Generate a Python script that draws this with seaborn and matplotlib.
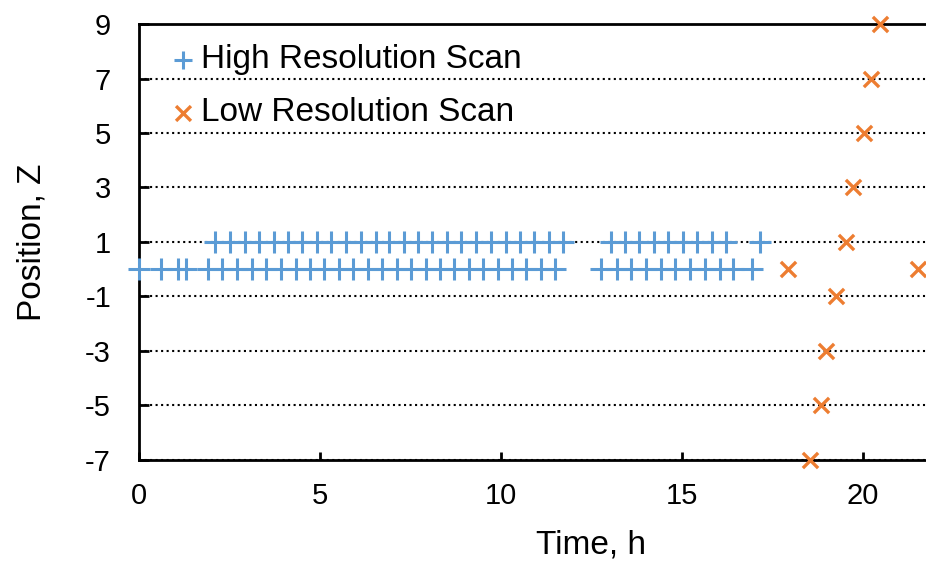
import matplotlib
matplotlib.use("Agg")
import matplotlib.pyplot as plt
import seaborn as sns
import pandas as pd

# High resolution scan (time in h, position Z)
high_t_z0 = [0.0, 0.61, 1.07, 1.30, 1.91, 2.31, 2.70, 3.13, 3.52, 3.92, 4.33, 4.72,
             5.12, 5.52, 5.92, 6.33, 6.72, 7.14, 7.51, 7.92, 8.33, 8.71, 9.12, 9.51,
             9.93, 10.31, 10.71, 11.10, 11.51,
             12.78, 13.20, 13.61, 14.02, 14.42, 14.81, 15.22, 15.64, 16.05, 16.42, 16.93]
high_t_z1 = [2.10, 2.51, 2.93, 3.31, 3.73, 4.12, 4.51, 4.91, 5.32, 5.72, 6.13, 6.54,
             6.91, 7.32, 7.72, 8.11, 8.51, 8.91, 9.31, 9.74, 10.14, 10.52, 10.92, 11.33,
             11.72,
             13.04, 13.44, 13.81, 14.23, 14.62, 15.04, 15.43, 15.84, 16.23,
             17.15]

# Low resolution scan
low_t = [17.93, 21.52, 18.54, 18.84, 19.00, 19.25, 19.53, 19.72, 20.03, 20.22, 20.47]
low_z = [0, 0, -7, -5, -3, -1, 1, 3, 5, 7, 9]

y_ticks = [-7, -5, -3, -1, 1, 3, 5, 7, 9]
x_ticks = [0, 5, 10, 15, 20]

high_df = pd.DataFrame({
    "t": high_t_z0 + high_t_z1,
    "z": [0] * len(high_t_z0) + [1] * len(high_t_z1),
})
low_df = pd.DataFrame({"t": low_t, "z": low_z})

sns.set_theme(style="white")
plt.rcParams["font.family"] = ["Liberation Sans", "DejaVu Sans"]
plt.rcParams["text.color"] = "black"
plt.rcParams["axes.labelcolor"] = "black"
plt.rcParams["xtick.color"] = "black"
plt.rcParams["ytick.color"] = "black"

fig = plt.figure(figsize=(9.26, 5.72), dpi=100)
# plot area continues past the right edge of the picture (cropped chart)
ax = fig.add_axes([0.150, 0.196, 0.977, 0.762])

blue = "#5B9BD5"
orange = "#ED7D31"

sns.scatterplot(data=high_df, x="t", y="z", marker="+", s=250, color=blue,
                linewidth=2.2, ax=ax, label="High Resolution Scan", clip_on=False, zorder=3)
sns.scatterplot(data=low_df, x="t", y="z", marker="x", s=120, color=orange,
                linewidth=2.4, ax=ax, label="Low Resolution Scan", clip_on=False, zorder=3)

ax.set_xlim(0, 25)
ax.set_ylim(-7, 9)
ax.set_xticks(x_ticks)
ax.set_yticks(y_ticks)
ax.set_xticklabels([str(v) for v in x_ticks])
ax.set_yticklabels([str(v) for v in y_ticks])

ax.yaxis.grid(True, linestyle=":", color="black", linewidth=1.5)
ax.xaxis.grid(False)
ax.set_axisbelow(True)

for side in ["left", "top", "bottom"]:
    ax.spines[side].set_visible(True)
    ax.spines[side].set_color("black")
    ax.spines[side].set_linewidth(2.0)
ax.spines["right"].set_visible(False)

ax.tick_params(axis="x", direction="in", length=6, width=2, color="black",
               labelsize=21, pad=16, bottom=True, top=False)
ax.tick_params(axis="y", direction="in", length=7, width=2, color="black",
               labelsize=21, pad=20, left=True, right=False)

ax.set_xlabel("Time, h", fontsize=24, labelpad=14, color="black")
ax.set_ylabel("Position, Z", fontsize=24, labelpad=27, color="black")

leg = ax.legend(loc="upper left", bbox_to_anchor=(0.0, 1.0115), frameon=False,
                fontsize=24, handletextpad=0.0, labelspacing=0.66,
                borderaxespad=0.36, handlelength=1.1)
for txt in leg.get_texts():
    txt.set_color("black")
hs = leg.legend_handles
hs[0].set_sizes([170])
hs[1].set_sizes([115])

fig.savefig("out.png", dpi=100)
